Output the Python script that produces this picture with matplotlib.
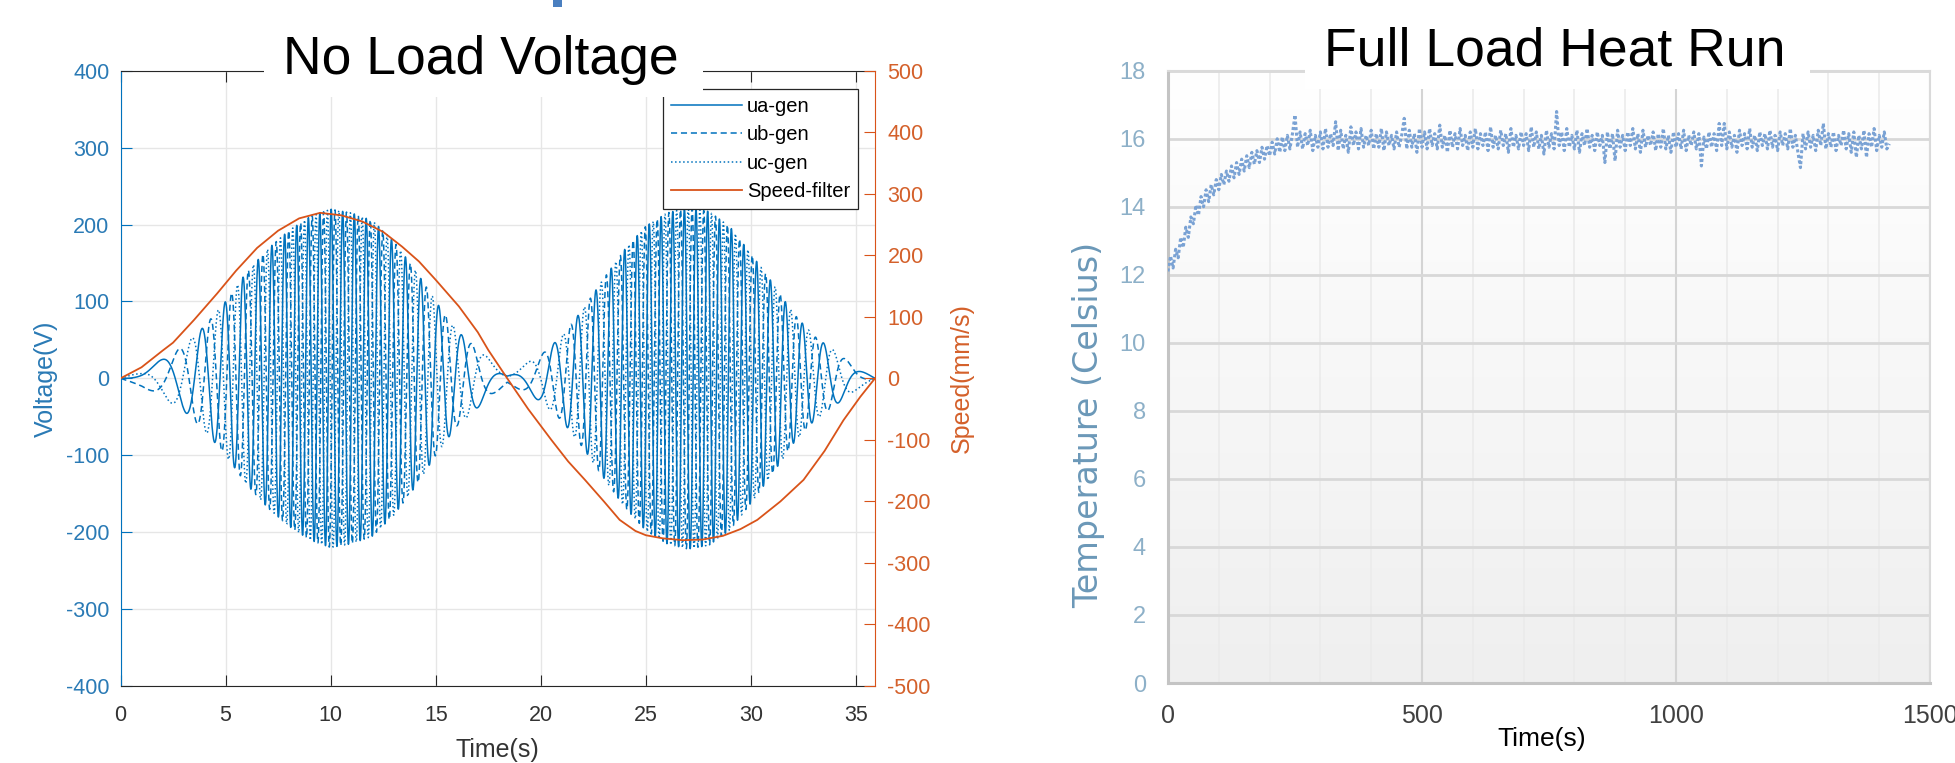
import numpy as np
import matplotlib.pyplot as plt
from matplotlib.patches import Rectangle
from matplotlib.colors import LinearSegmentedColormap

plt.rcParams['font.family'] = ['Liberation Sans', 'DejaVu Sans']
plt.rcParams['axes.unicode_minus'] = False

# --- No Load Voltage ---
# speed trace (s, mm/s)
speed_t = [0, 1, 2, 2.5, 3.5, 4.6, 5.5, 6.5, 7.5, 8.5, 9.5, 10.5, 11.5, 12.5, 13.4,
           14.2, 15, 16.1, 17, 17.5, 18.4, 19.4, 20.5, 21.3, 22.1, 23, 23.75, 24.5,
           25, 25.8, 26.75, 27.7, 28.66, 29.5, 30.3, 31.4, 32.5, 33.5, 34.4, 35.2, 35.9]
speed_v = [0, 18, 45, 58, 95, 138, 175, 212, 240, 260, 269, 265, 255, 238, 214,
           190, 160, 117, 75, 46, 0, -50, -100, -135, -165, -200, -230, -248,
           -255, -260, -263, -262, -256, -245, -230, -200, -165, -118, -68, -30, 0]
# peak phase voltage (s, V)
env_t = [0, 1, 2, 3, 4, 5, 6, 7, 8, 9, 10, 11, 12, 13, 14, 15, 16, 17, 18, 18.4,
         19, 20, 21, 22, 23, 24, 25, 26, 27, 28, 29, 30, 31, 32, 33, 34, 35, 35.9]
env_v = [0, 10, 25, 42, 68, 100, 138, 168, 192, 210, 220, 215, 205, 178, 142, 100, 62, 38, 15, 5,
         15, 30, 55, 90, 130, 168, 198, 215, 222, 217, 197, 162, 125, 85, 55, 35, 15, 0]
pole_wavelength = 145.0  # mm travelled per electrical cycle
phase_names = ['ua-gen', 'ub-gen', 'uc-gen']

# --- Full Load Heat Run --- temperature every 5 s (Celsius)
heat_step = 5
heat_temp = [
    12.1, 12.55, 12.2, 12.75, 12.5, 13.1, 12.8, 13.4, 13.1, 13.7,
    13.5, 14.05, 13.75, 14.3, 14.0, 14.5, 14.15, 14.65, 14.35, 14.8,
    14.5, 14.95, 14.65, 15.05, 14.75, 15.2, 14.85, 15.3, 14.95, 15.4,
    15.05, 15.5, 15.15, 15.6, 15.25, 15.65, 15.3, 15.75, 15.4, 15.8,
    15.5, 15.9, 15.55, 16.0, 15.6, 16.05, 15.65, 16.1, 15.7, 16.15,
    16.7, 15.75, 16.2, 15.7, 16.15, 15.8, 16.25, 15.65, 16.1, 15.75,
    16.2, 15.7, 16.3, 15.75, 16.15, 15.8, 16.5, 15.65, 16.25, 15.7,
    16.1, 15.6, 16.35, 15.8, 16.2, 15.7, 16.3, 15.75, 16.1, 15.8,
    16.25, 15.7, 16.15, 15.75, 16.3, 15.65, 16.2, 15.8, 16.1, 15.7,
    16.2, 15.75, 16.1, 16.6, 15.7, 16.25, 15.75, 16.15, 15.6, 16.3,
    15.75, 16.2, 15.7, 16.3, 15.8, 16.15, 15.7, 16.4, 15.75, 16.1,
    15.6, 16.25, 15.75, 16.15, 15.7, 16.3, 15.8, 16.1, 15.65, 16.2,
    15.75, 16.3, 15.7, 16.15, 15.8, 16.2, 15.65, 16.35, 15.75, 16.1,
    15.7, 16.25, 15.8, 16.15, 15.6, 16.3, 15.75, 16.1, 15.7, 16.2,
    15.8, 16.15, 15.65, 16.35, 15.75, 16.2, 15.7, 16.1, 15.55, 16.25,
    15.75, 16.15, 15.7, 16.8, 15.8, 16.2, 15.65, 16.3, 15.75, 16.1,
    15.7, 16.25, 15.6, 16.15, 15.8, 16.3, 15.75, 16.1, 15.65, 16.2,
    15.8, 16.1, 15.3, 16.2, 15.7, 16.15, 15.35, 16.25, 15.75, 16.1,
    15.65, 16.2, 15.8, 16.3, 15.7, 16.15, 15.6, 16.25, 15.75, 16.1,
    15.8, 16.2, 15.65, 16.15, 15.75, 16.3, 15.7, 16.1, 15.6, 16.2,
    15.75, 16.15, 15.7, 16.25, 15.65, 16.1, 15.8, 16.2, 15.7, 16.15,
    15.2, 16.05, 15.7, 16.2, 15.75, 16.15, 15.65, 16.45, 15.8, 16.45,
    15.7, 16.2, 15.75, 16.1, 15.6, 16.25, 15.8, 16.15, 15.7, 16.3,
    15.75, 16.1, 15.65, 16.2, 15.8, 16.15, 15.7, 16.25, 15.75, 16.1,
    15.65, 16.2, 15.8, 16.15, 15.7, 16.3, 15.75, 16.1, 15.6, 15.15,
    16.15, 15.7, 16.2, 15.75, 16.1, 15.65, 16.25, 15.8, 16.45, 15.7,
    16.15, 15.75, 16.2, 15.65, 16.1, 15.8, 16.25, 15.7, 16.15, 15.6,
    16.2, 15.45, 16.1, 15.7, 16.25, 15.45, 16.15, 15.75, 16.3, 15.65,
    16.1, 15.75, 16.2, 15.7, 15.85,
]

BLUE = '#0072BD'
ORANGE = '#D95319'

W, H = 1955, 763
fig = plt.figure(figsize=(W / 100, H / 100), dpi=100)


def box(x0, y0, x1, y1):
    # pixel box (origin top-left) -> figure fraction rect
    return [x0 / W, 1 - y1 / H, (x1 - x0) / W, (y1 - y0) / H]


def patch(x0, y0, x1, y1, color, z):
    l, b, w, h = box(x0, y0, x1, y1)
    fig.add_artist(Rectangle((l, b), w, h, transform=fig.transFigure,
                             fc=color, ec='none', zorder=z))


# ================= left: No Load Voltage =================
t = np.linspace(speed_t[0], speed_t[-1], 9000)
v = np.interp(t, speed_t, speed_v)
pos = np.concatenate([[0], np.cumsum((v[1:] + v[:-1]) / 2 * np.diff(t))])
theta = 2 * np.pi * pos / pole_wavelength
amp = np.interp(t, env_t, env_v)
ua = amp * np.sin(theta)
ub = amp * np.sin(theta - 2 * np.pi / 3)
uc = amp * np.sin(theta + 2 * np.pi / 3)

ax1 = fig.add_axes(box(120.5, 70.7, 875, 686))
l1, = ax1.plot(t, ua, '-', color=BLUE, lw=1.1, label=phase_names[0])
l2, = ax1.plot(t, ub, '--', color=BLUE, lw=1.1, dashes=(4, 2.5), label=phase_names[1])
l3, = ax1.plot(t, uc, ':', color=BLUE, lw=1.1, label=phase_names[2])
ax1.set_xlim(0, 35.9)
ax1.set_ylim(-400, 400)
ax1.set_xticks(range(0, 36, 5))
ax1.set_yticks(range(-400, 401, 100))
ax1.grid(True, color='#e6e6e6', lw=1)
ax1.set_axisbelow(True)
ax1.tick_params(axis='x', direction='in', length=8, top=True, color='#262626',
                labelcolor='#333333', labelsize=15.5, pad=14)
ax1.tick_params(axis='y', direction='in', length=8, color=BLUE,
                labelcolor='#2a7ab5', labelsize=15.5, pad=8)
ax1.spines['left'].set_color(BLUE)
ax1.spines['right'].set_visible(False)
for s in ('top', 'bottom'):
    ax1.spines[s].set_color('#262626')
ax1.set_xlabel('Time(s)', fontsize=18, color='#333333')
ax1.xaxis.set_label_coords(0.5, -0.085)
ax1.set_ylabel('Voltage(V)', fontsize=18, color='#2a7ab5')
ax1.yaxis.set_label_coords(-0.083, 0.5)

ax1t = ax1.twinx()
l4, = ax1t.plot(speed_t, speed_v, color=ORANGE, lw=1.3, label='Speed-filter')
ax1t.set_ylim(-500, 500)
ax1t.set_yticks(range(-500, 501, 100))
ax1t.tick_params(axis='y', direction='in', length=8, color=ORANGE,
                 labelcolor='#d4602a', labelsize=15.5, pad=9)
ax1t.spines['right'].set_color(ORANGE)
ax1t.spines['left'].set_visible(False)
ax1t.spines['top'].set_visible(False)
ax1t.spines['bottom'].set_visible(False)
ax1t.set_ylabel('Speed(mm/s)', fontsize=18, color='#d4602a')
ax1t.yaxis.set_label_coords(1.0994, 0.5)

handles = [l1, l2, l3, l4]
leg = ax1t.legend(handles, [h.get_label() for h in handles],
                  loc='upper right', bbox_to_anchor=(0.9775, 0.9703), borderaxespad=0,
                  fontsize=14.5, handlelength=3.5, handletextpad=0.25, labelspacing=0.46,
                  borderpad=0.4, fancybox=False, framealpha=1, edgecolor='#262626')
leg.get_frame().set_linewidth(0.9)

# ================= right: Full Load Heat Run =================
heat_time = np.arange(len(heat_temp)) * heat_step
ax2 = fig.add_axes(box(1168, 70.7, 1930, 683))
grad = LinearSegmentedColormap.from_list('bg', ['#efefef', '#ffffff'])
ax2.imshow(np.linspace(0, 1, 256)[:, None], cmap=grad, aspect='auto',
           extent=[0, 1500, 0, 18], origin='lower', zorder=0)
ax2.plot(heat_time, heat_temp, ls=(0, (1, 0.8)), color='#7aa2d4', lw=2.2, zorder=3)
ax2.set_xlim(0, 1500)
ax2.set_ylim(0, 18)
ax2.set_xticks([0, 500, 1000, 1500])
ax2.set_xticks(np.arange(0, 1501, 100), minor=True)
ax2.set_yticks(range(0, 19, 2))
ax2.grid(which='minor', axis='x', color='#ebebeb', lw=1.2, zorder=1)
ax2.grid(which='major', axis='x', color='#d4d4d4', lw=1.5, zorder=1)
ax2.grid(which='major', axis='y', color='#d8d8d8', lw=2, zorder=1)
ax2.tick_params(which='both', length=0)
ax2.tick_params(axis='y', labelcolor='#8db0c8', labelsize=17, pad=16)
ax2.tick_params(axis='x', labelcolor='#404040', labelsize=18, pad=15)
for s in ('left', 'bottom'):
    ax2.spines[s].set_color('#c4c4c4')
    ax2.spines[s].set_linewidth(2.2)
for s in ('top', 'right'):
    ax2.spines[s].set_color('#dadada')
    ax2.spines[s].set_linewidth(1.5)
ax2.set_xlabel('Time(s)', fontsize=19, color='black')
ax2.xaxis.set_label_coords(0.491, -0.072)
ax2.set_ylabel('Temperature (Celsius)', family='DejaVu Sans', fontsize=24, color='#6b98b8')
ax2.yaxis.set_label_coords(-0.082, 0.421)

# ================= titles sitting on white boxes over the frames =================
patch(264, 0, 703, 97, 'white', 3)
patch(1305, 0, 1810, 89, 'white', 3)
patch(553, 0, 562, 7, '#4a7fc0', 4)
fig.text(480.5 / W, 1 - 74 / H, 'No Load Voltage', ha='center', va='baseline',
         fontsize=38.5, color='black', zorder=5)
fig.text(1555 / W, 1 - 65 / H, 'Full Load Heat Run', ha='center', va='baseline',
         fontsize=38.5, color='black', zorder=5)

fig.savefig('out.png', dpi=100)
